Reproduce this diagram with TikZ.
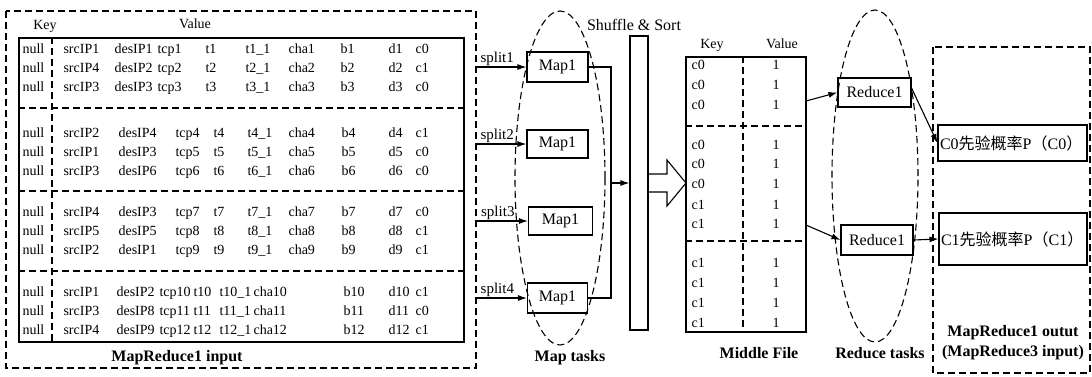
\documentclass[tikz,border=0pt]{standalone}
\usepackage{fontspec}
\setmainfont{Liberation Serif}
\newfontfamily\cjk{Noto Sans CJK SC}
\usetikzlibrary{arrows.meta}

% one input record: #1 row id, #2 baseline, #3 list of x/text cells
\newcommand\inrow[3]{%
  \foreach \cx/\ct [count=\k] in {#3} {\node[cell] (in#1-\k) at (\cx,#2) {\ct};}}
% one middle-file record: #1 row id, #2 baseline, #3 key
\newcommand\midrow[3]{%
  \node[cell] (mk#1) at (691,#2) {#3};
  \node[head] (mv#1) at (776,#2) {1};}

\begin{document}
\begin{tikzpicture}[x=1pt,y=-1pt,
  line width=1.1pt,
  cell/.style={font=\fontsize{14}{16}\selectfont, inner sep=0pt, anchor=base west},
  head/.style={font=\fontsize{14}{16}\selectfont, inner sep=0pt, anchor=base},
  caplbl/.style={font=\bfseries\fontsize{16}{20}\selectfont, inner sep=0pt, anchor=base, align=center},
  taskbox/.style={draw, font=\fontsize{16}{18}\selectfont, inner sep=0pt},
  plainbox/.style={draw, inner sep=0pt},
  dashln/.style={dash pattern=on 7pt off 4pt},
  arr/.style={-{Latex[length=9pt,width=6pt]}},
  splitlbl/.style={font=\fontsize{15}{17}\selectfont, inner sep=1pt, above},
]
\useasboundingbox (0,0) rectangle (1092,376);

% ---------- MapReduce1 input ----------
\draw[dashln] (6,11) rectangle (476,368);
\node[plainbox, minimum width=445pt, minimum height=304pt] (inbox) at (241.5,190) {};
\draw[dashln] (inbox.north west -| 52,0) -- (inbox.south west -| 52,0);
\foreach \sy in {108,191,271} \draw[dashln] (inbox.west |- 0,\sy) -- (inbox.east |- 0,\sy);
\node[head] (kin) at (45,29) {Key};
\node[head] (vin) at (195,28) {Value};

\inrow{1}{53}{22/null,63/srcIP1,114/desIP1,157/tcp1,205/t1,245/t1\_1,288/cha1,340/b1,388/d1,415/c0}
\inrow{2}{72}{22/null,63/srcIP4,114/desIP2,157/tcp2,205/t2,245/t2\_1,288/cha2,340/b2,388/d2,415/c1}
\inrow{3}{91}{22/null,63/srcIP3,114/desIP3,157/tcp3,205/t3,245/t3\_1,288/cha3,340/b3,388/d3,415/c0}
\inrow{4}{137}{22/null,63/srcIP2,118/desIP4,175/tcp4,213/t4,247/t4\_1,288/cha4,341/b4,388/d4,415/c1}
\inrow{5}{156}{22/null,63/srcIP1,118/desIP3,175/tcp5,213/t5,247/t5\_1,288/cha5,341/b5,388/d5,415/c0}
\inrow{6}{175}{22/null,63/srcIP3,118/desIP6,175/tcp6,213/t6,247/t6\_1,288/cha6,341/b6,388/d6,415/c0}
\inrow{7}{216}{22/null,63/srcIP4,118/desIP3,175/tcp7,213/t7,247/t7\_1,288/cha7,341/b7,388/d7,415/c0}
\inrow{8}{235}{22/null,63/srcIP5,118/desIP5,175/tcp8,213/t8,247/t8\_1,288/cha8,341/b8,388/d8,415/c1}
\inrow{9}{254}{22/null,63/srcIP2,118/desIP1,175/tcp9,213/t9,247/t9\_1,288/cha9,341/b9,388/d9,415/c1}
\inrow{10}{296}{22/null,63/srcIP1,116/desIP2,159/tcp10,193/t10,219/t10\_1,253/cha10,343/b10,388/d10,415/c1}
\inrow{11}{315}{22/null,63/srcIP3,116/desIP8,159/tcp11,193/t11,219/t11\_1,253/cha11,343/b11,388/d11,415/c0}
\inrow{12}{334}{22/null,63/srcIP4,116/desIP9,159/tcp12,193/t12,219/t12\_1,253/cha12,343/b12,388/d12,415/c1}

\node[caplbl] (inlbl) at (177,361) {MapReduce1 input};

% ---------- Map tasks ----------
\draw[dashln] (560,178) ellipse [x radius=45pt, y radius=167pt];
\node[taskbox, minimum width=61pt, minimum height=30pt] (m1) at (557.5,67) {Map1};
\node[taskbox, minimum width=61pt, minimum height=28pt] (m2) at (557.5,144) {Map1};
\node[taskbox, minimum width=64pt, minimum height=28pt] (m3) at (560.5,221) {Map1};
\node[taskbox, minimum width=60pt, minimum height=30pt] (m4) at (557.5,298) {Map1};
\node[caplbl] (mtl) at (570,361) {Map tasks};

\coordinate (s1) at (476,67);
\coordinate (s2) at (476,144);
\coordinate (s3) at (476,221);
\coordinate (s4) at (476,298);
\draw[arr] (s1) -- (m1.west) node[splitlbl, pos=0.42] (sl1) {split1};
\draw[arr] (s2) -- (m2.west) node[splitlbl, pos=0.42] (sl2) {split2};
\draw[arr] (s3) -- (m3.west) node[splitlbl, pos=0.42] (sl3) {split3};
\draw[arr] (s4) -- (m4.west) node[splitlbl, pos=0.42] (sl4) {split4};

% ---------- Shuffle & Sort ----------
\coordinate (bt) at (611,67);
\coordinate (bm) at (611,183);
\coordinate (bb) at (611,298);
\draw (m1.east) -- (bt) -- (bb) -- (m4.east);
\node[plainbox, minimum width=18pt, minimum height=294pt] (sh) at (639,183) {};
\draw[arr] (bm) -- (sh.west);
\node[font=\fontsize{16}{18}\selectfont, inner sep=0pt, anchor=base] (shl) at (634,30) {Shuffle \& Sort};
% hollow block arrow into the middle file
\draw (648,174) -- (667,174) -- (667,160) -- (686,183) -- (667,206) -- (667,192) -- (648,192);

% ---------- Middle File ----------
\node[plainbox, minimum width=120pt, minimum height=275pt] (mf) at (746,194.5) {};
\draw[dashln] (mf.north -| 743,0) -- (mf.south -| 743,0);
\foreach \sy in {126,241} \draw[dashln] (mf.west |- 0,\sy) -- (mf.east |- 0,\sy);
\node[head] (kmf) at (712,48) {Key};
\node[head] (vmf) at (782,48) {Value};
\midrow{1}{69.5}{c0}
\midrow{2}{89.5}{c0}
\midrow{3}{109.5}{c0}
\midrow{4}{149.5}{c0}
\midrow{5}{168.5}{c0}
\midrow{6}{188.5}{c0}
\midrow{7}{209.5}{c1}
\midrow{8}{228.5}{c1}
\midrow{9}{267.5}{c1}
\midrow{10}{287.5}{c1}
\midrow{11}{307.5}{c1}
\midrow{12}{327}{c1}
\node[caplbl] (mfl) at (759,358) {Middle File};

% ---------- Reduce tasks ----------
\draw[dashln] (875,176) ellipse [x radius=43pt, y radius=166pt];
\node[taskbox, minimum width=73pt, minimum height=29pt] (r1) at (874.5,92.5) {Reduce1};
\node[taskbox, minimum width=72pt, minimum height=30pt] (r2) at (877,240) {Reduce1};
\node[caplbl] (rtl) at (880,358) {Reduce tasks};
\coordinate (o1) at (806,101);
\coordinate (o2) at (806,225);
\draw[arr] (o1) -- (r1.west);
\draw[arr] (o2) -- (r2.west);

% ---------- MapReduce1 output ----------
\draw[dashln] (933,47) rectangle (1090,373);
\node[plainbox, minimum width=149pt, minimum height=36pt] (p0) at (1012.5,143) {};
\node[plainbox, minimum width=148pt, minimum height=52pt] (p1) at (1013,239) {};
\node[font=\fontsize{16}{18}\selectfont, inner sep=0pt, anchor=west] (p0t) at ([xshift=2pt]p0.west)
  {C0{\cjk 先验概率}P{\cjk （}C0{\cjk ）}};
\node[font=\fontsize{16}{18}\selectfont, inner sep=0pt, anchor=west] (p1t) at ([xshift=2pt]p1.west)
  {C1{\cjk 先验概率}P{\cjk （}C1{\cjk ）}};
\draw[arr] ([yshift=4.5pt]r1.east) -- (p0.west);
\draw[arr] (r2.east) -- (p1.west);
\node[caplbl, anchor=center] (outl) at (1013,343) {MapReduce1 outut\\(MapReduce3 input)};
\end{tikzpicture}
\end{document}
